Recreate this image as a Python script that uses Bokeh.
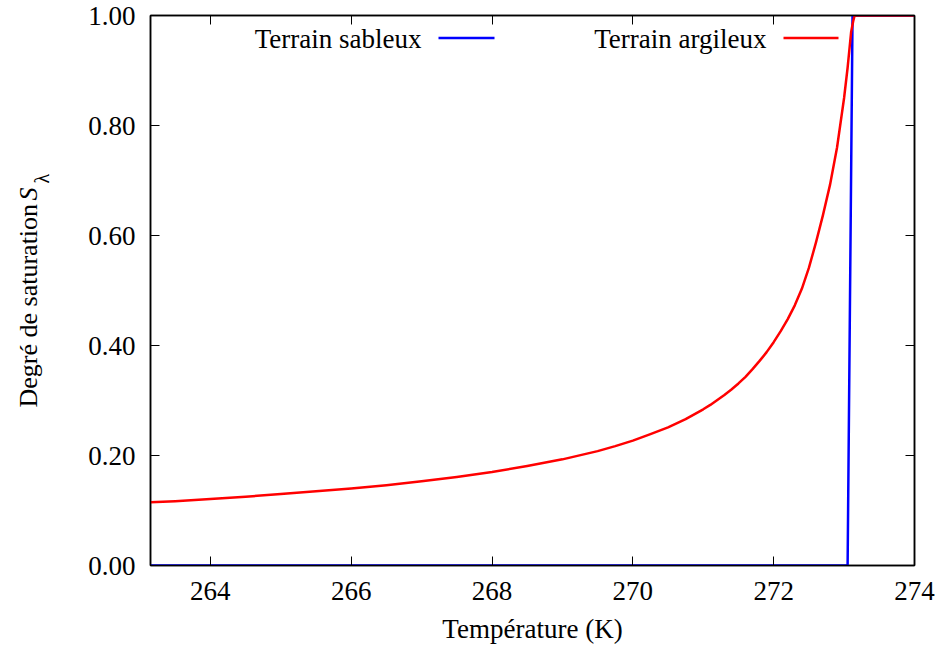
import math
from bokeh.plotting import figure
from bokeh.layouts import row
from bokeh.models import LinearAxis, Label, Arrow, FixedTicker, PrintfTickFormatter, Range1d
from bokeh.embed import file_html
from bokeh.resources import INLINE

# Data
temp_sable = [263.15, 273.05, 273.12, 274.0]
sat_sable = [0.0, 0.0, 1.0, 1.0]

temp_argile = [263.15, 263.5, 264.0, 264.5, 265.0, 265.5, 266.0, 266.5, 267.0, 267.5,
               268.0, 268.5, 269.0, 269.5, 269.75, 270.0, 270.25, 270.5, 270.75, 271.0,
               271.1, 271.2, 271.3, 271.4, 271.5, 271.6, 271.7, 271.8, 271.9, 272.0,
               272.1, 272.2, 272.3, 272.4, 272.5, 272.6, 272.7, 272.8, 272.9, 273.0,
               273.05, 273.10, 273.13, 273.15, 274.0]
sat_argile = [0.115, 0.117, 0.121, 0.125, 0.130, 0.135, 0.140, 0.146, 0.153, 0.161,
              0.170, 0.181, 0.193, 0.208, 0.217, 0.227, 0.239, 0.251, 0.266, 0.284,
              0.292, 0.301, 0.310, 0.320, 0.331, 0.343, 0.357, 0.372, 0.388, 0.406,
              0.426, 0.448, 0.473, 0.503, 0.541, 0.587, 0.637, 0.692, 0.760, 0.850,
              0.905, 0.970, 0.990, 1.0, 1.0]

x_ticks = [264, 266, 268, 270, 272, 274]
y_ticks = [0.0, 0.2, 0.4, 0.6, 0.8, 1.0]

FONT = "Liberation Serif"
FS = "27px"
H = 648
W_LAB = 60
F_TOP, F_BOTTOM = 15, 565   # frame edges in page pixels

# Narrow panel holding the rotated y-axis title (S italic, lambda subscript)
lab = figure(width=W_LAB, height=H, x_range=Range1d(0, W_LAB),
             y_range=Range1d(H - F_BOTTOM, H - F_TOP),
             output_backend="svg", toolbar_location=None,
             x_axis_location=None, y_axis_location=None,
             min_border=0)
lab.xgrid.visible = False
lab.ygrid.visible = False
lab.outline_line_color = None
lab.border_fill_color = "white"
lab.background_fill_color = "white"
lab.add_layout(Label(x=28, y=H - 407, text="Degré de saturation", angle=math.pi / 2,
                     text_align="left", text_baseline="alphabetic",
                     text_font=FONT, text_font_size="26px", text_color="black"))
lab.add_layout(Label(x=28, y=H - 200, text="S", angle=math.pi / 2, text_font_style="italic",
                     text_align="left", text_baseline="alphabetic",
                     text_font=FONT, text_font_size="26px", text_color="black"))
lab.add_layout(Label(x=41, y=H - 183, text="λ", angle=math.pi / 2,
                     text_align="left", text_baseline="alphabetic",
                     text_font=FONT, text_font_size="20px", text_color="black"))

p = figure(width=935 - W_LAB, height=H,
           x_range=Range1d(263.15, 274.0), y_range=Range1d(0.0, 1.0),
           output_backend="svg", toolbar_location=None,
           min_border_left=150 - W_LAB, min_border_right=21,
           min_border_top=F_TOP, min_border_bottom=H - F_BOTTOM)
p.xgrid.visible = False
p.ygrid.visible = False
p.outline_line_color = "black"
p.outline_line_width = 1.5
p.background_fill_color = "white"
p.border_fill_color = "white"

def style_axis(ax, labels=True):
    ax.major_tick_in = 9
    ax.major_tick_out = 0
    ax.minor_tick_in = 0
    ax.minor_tick_out = 0
    ax.major_tick_line_color = "black"
    ax.major_tick_line_width = 1
    ax.axis_line_color = "black"
    ax.axis_line_width = 1.5
    ax.major_label_text_font = FONT
    ax.major_label_text_font_size = FS
    ax.major_label_text_color = "black"
    if not labels:
        ax.major_label_overrides = {t: "" for t in ax.ticker.ticks}
        ax.major_label_standoff = 0

p.xaxis.ticker = FixedTicker(ticks=x_ticks)
p.yaxis.ticker = FixedTicker(ticks=y_ticks)
p.yaxis.formatter = PrintfTickFormatter(format="%.2f")
style_axis(p.xaxis[0])
style_axis(p.yaxis[0])
p.xaxis.major_label_standoff = 16
p.yaxis.major_label_standoff = 15

p.xaxis.axis_label = "Température (K)"
p.xaxis.axis_label_text_font = FONT
p.xaxis.axis_label_text_font_size = FS
p.xaxis.axis_label_text_font_style = "normal"
p.xaxis.axis_label_text_color = "black"
p.xaxis.axis_label_standoff = 11

top_axis = LinearAxis(ticker=FixedTicker(ticks=x_ticks))
style_axis(top_axis, labels=False)
p.add_layout(top_axis, "above")
right_axis = LinearAxis(ticker=FixedTicker(ticks=y_ticks))
style_axis(right_axis, labels=False)
p.add_layout(right_axis, "right")

p.line(temp_sable, sat_sable, line_color="#0000ff", line_width=2.5)
p.line(temp_argile, sat_argile, line_color="#ff0000", line_width=2.5, line_join="round")

# Legend (gnuplot style: text then sample), positions in frame pixels
for txt, xr, x0, x1, col in [("Terrain sableux", 271, 288, 344, "#0000ff"),
                             ("Terrain argileux", 616, 633, 688, "#ff0000")]:
    p.add_layout(Label(x=xr, y=527, x_units="screen", y_units="screen", text=txt,
                       text_align="right", text_baseline="alphabetic",
                       text_font=FONT, text_font_size=FS, text_color="black"))
    p.add_layout(Arrow(end=None, x_start=x0, y_start=527.5, x_end=x1, y_end=527.5,
                       start_units="screen", end_units="screen",
                       line_color=col, line_width=2.5))

layout = row(lab, p, spacing=0)
open("out.html", "w").write(file_html(layout, INLINE))
